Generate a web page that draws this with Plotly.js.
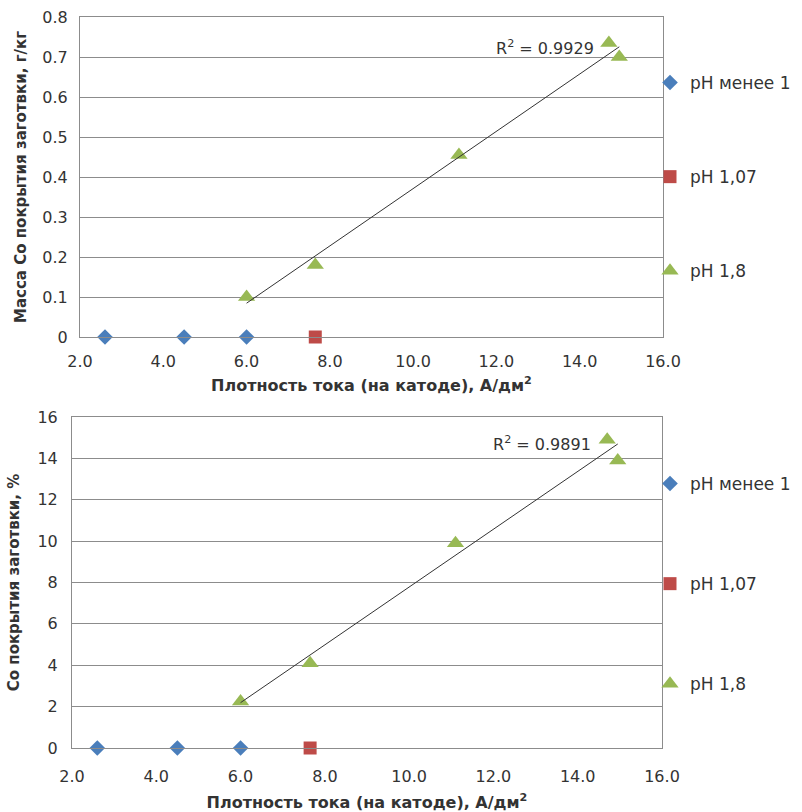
<!DOCTYPE html>
<html><head><meta charset="utf-8">
<script src="https://cdn.plot.ly/plotly-3.0.1.min.js"></script>
<style>html,body{margin:0;padding:0;background:#fff}#chart{width:802px;height:812px}</style>
</head><body><div id="chart"></div>
<script>
const seriesNames = ['pH менее 1', 'pH 1,07', 'pH 1,8'];
const xLow = [2.6, 4.5, 6.0];
const massLow = [0, 0, 0];
const pctLow = [0, 0, 0];
const xMid = [7.65];
const massMid = [0];
const pctMid = [0];
const xHigh = [6.0, 7.65, 11.1, 14.7, 14.95];
const massHigh = [0.10, 0.18, 0.455, 0.735, 0.70];
const pctHigh = [2.25, 4.1, 9.9, 14.9, 13.9];
const r2Labels = ['R<sup>2</sup> = 0.9929', 'R<sup>2</sup> = 0.9891'];
const xTitle = 'Плотность тока (на катоде), А/дм<sup>2</sup>';
const yTitleTop = 'Масса Co покрытия заготвки, г/кг';
const yTitleBottom = 'Co покрытия заготвки, %';

function fit(xs, ys) {
  const n = xs.length;
  const mx = xs.reduce((a, b) => a + b, 0) / n;
  const my = ys.reduce((a, b) => a + b, 0) / n;
  let sxx = 0, sxy = 0;
  for (let i = 0; i < n; i++) { sxx += (xs[i] - mx) ** 2; sxy += (xs[i] - mx) * (ys[i] - my); }
  const k = sxy / sxx, b = my - k * mx;
  const x0 = Math.min(...xs), x1 = Math.max(...xs);
  return { x: [x0, x1], y: [k * x0 + b, k * x1 + b] };
}

const colors = ['#4a7ebb', '#be4b48', '#98b954'];
const sym = ['diamond', 'square', 'triangle-up'];
const sizes = [12, 13, 15];
const textColor = '#333';
const baseFont = 'DejaVu Sans, Liberation Sans, sans-serif';

function seriesTraces(xa, ya, leg, lows, mids, highs) {
  const data = [[xLow, lows], [xMid, mids], [xHigh, highs]];
  const tr = data.map((d, i) => ({
    type: 'scatter', mode: 'markers', x: d[0], y: d[1], name: seriesNames[i],
    xaxis: xa, yaxis: ya, legend: leg, legendgroup: leg + i, cliponaxis: false,
    marker: { symbol: sym[i], size: sizes[i], color: colors[i] }
  }));
  const f = fit(xHigh, highs);
  tr.push({ type: 'scatter', mode: 'lines', x: f.x, y: f.y, xaxis: xa, yaxis: ya,
    showlegend: false, line: { color: '#333', width: 1 }, hoverinfo: 'skip' });
  return tr;
}

const traces = [
  ...seriesTraces('x', 'y', 'legend', massLow, massMid, massHigh),
  ...seriesTraces('x2', 'y2', 'legend2', pctLow, pctMid, pctHigh)
];

const axCommon = {
  showline: true, mirror: true, linecolor: '#8c8c8c', linewidth: 1,
  ticks: '', automargin: false, zeroline: false,
  tickfont: { family: baseFont, size: 16, color: textColor }
};
const legCommon = {
  xanchor: 'left', yanchor: 'top', traceorder: 'grouped',
  bgcolor: 'rgba(0,0,0,0)', font: { family: baseFont, size: 17, color: textColor }
};
const titleFont = { family: baseFont, size: 16, color: textColor, weight: 'bold' };

const layout = {
  width: 802, height: 812, margin: { l: 0, r: 0, t: 0, b: 0 },
  paper_bgcolor: '#fff', plot_bgcolor: '#fff', showlegend: true,
  xaxis: Object.assign({}, axCommon, { domain: [80/802, 663/802], range: [2, 16], dtick: 2, tickformat: '.1f',
    showgrid: false, anchor: 'y', ticklabelstandoff: 10, title: { text: xTitle, font: titleFont, standoff: 9 } }),
  yaxis: Object.assign({}, axCommon, { domain: [1 - 337/812, 1 - 17/812], range: [0, 0.8], dtick: 0.1,
    showgrid: true, gridcolor: '#8c8c8c', anchor: 'x', ticklabelstandoff: 8,
    title: { text: yTitleTop, font: Object.assign({}, titleFont, { size: 15 }), standoff: 12 } }),
  xaxis2: Object.assign({}, axCommon, { domain: [72/802, 662/802], range: [2, 16], dtick: 2, tickformat: '.1f',
    showgrid: false, anchor: 'y2', ticklabelstandoff: 14, title: { text: xTitle, font: titleFont, standoff: 11 } }),
  yaxis2: Object.assign({}, axCommon, { domain: [1 - 748/812, 1 - 417/812], range: [0, 16], dtick: 2,
    showgrid: true, gridcolor: '#8c8c8c', anchor: 'x2', ticklabelstandoff: 10,
    title: { text: yTitleBottom, font: Object.assign({}, titleFont, { size: 15 }), standoff: 14 } }),
  legend: Object.assign({}, legCommon, { x: 650/802, y: 1 - 65/812, tracegroupgap: 69 }),
  legend2: Object.assign({}, legCommon, { x: 650/802, y: 1 - 466/812, tracegroupgap: 75 }),
  annotations: [
    { xref: 'x', yref: 'y', x: 14.38, y: 0.725, xanchor: 'right', yanchor: 'middle', showarrow: false,
      text: r2Labels[0], font: { family: baseFont, size: 16, color: textColor } },
    { xref: 'x2', yref: 'y2', x: 14.37, y: 14.7, xanchor: 'right', yanchor: 'middle', showarrow: false,
      text: r2Labels[1], font: { family: baseFont, size: 16, color: textColor } }
  ]
};

Plotly.newPlot('chart', traces, layout, { displayModeBar: false, staticPlot: true });
</script></body></html>
